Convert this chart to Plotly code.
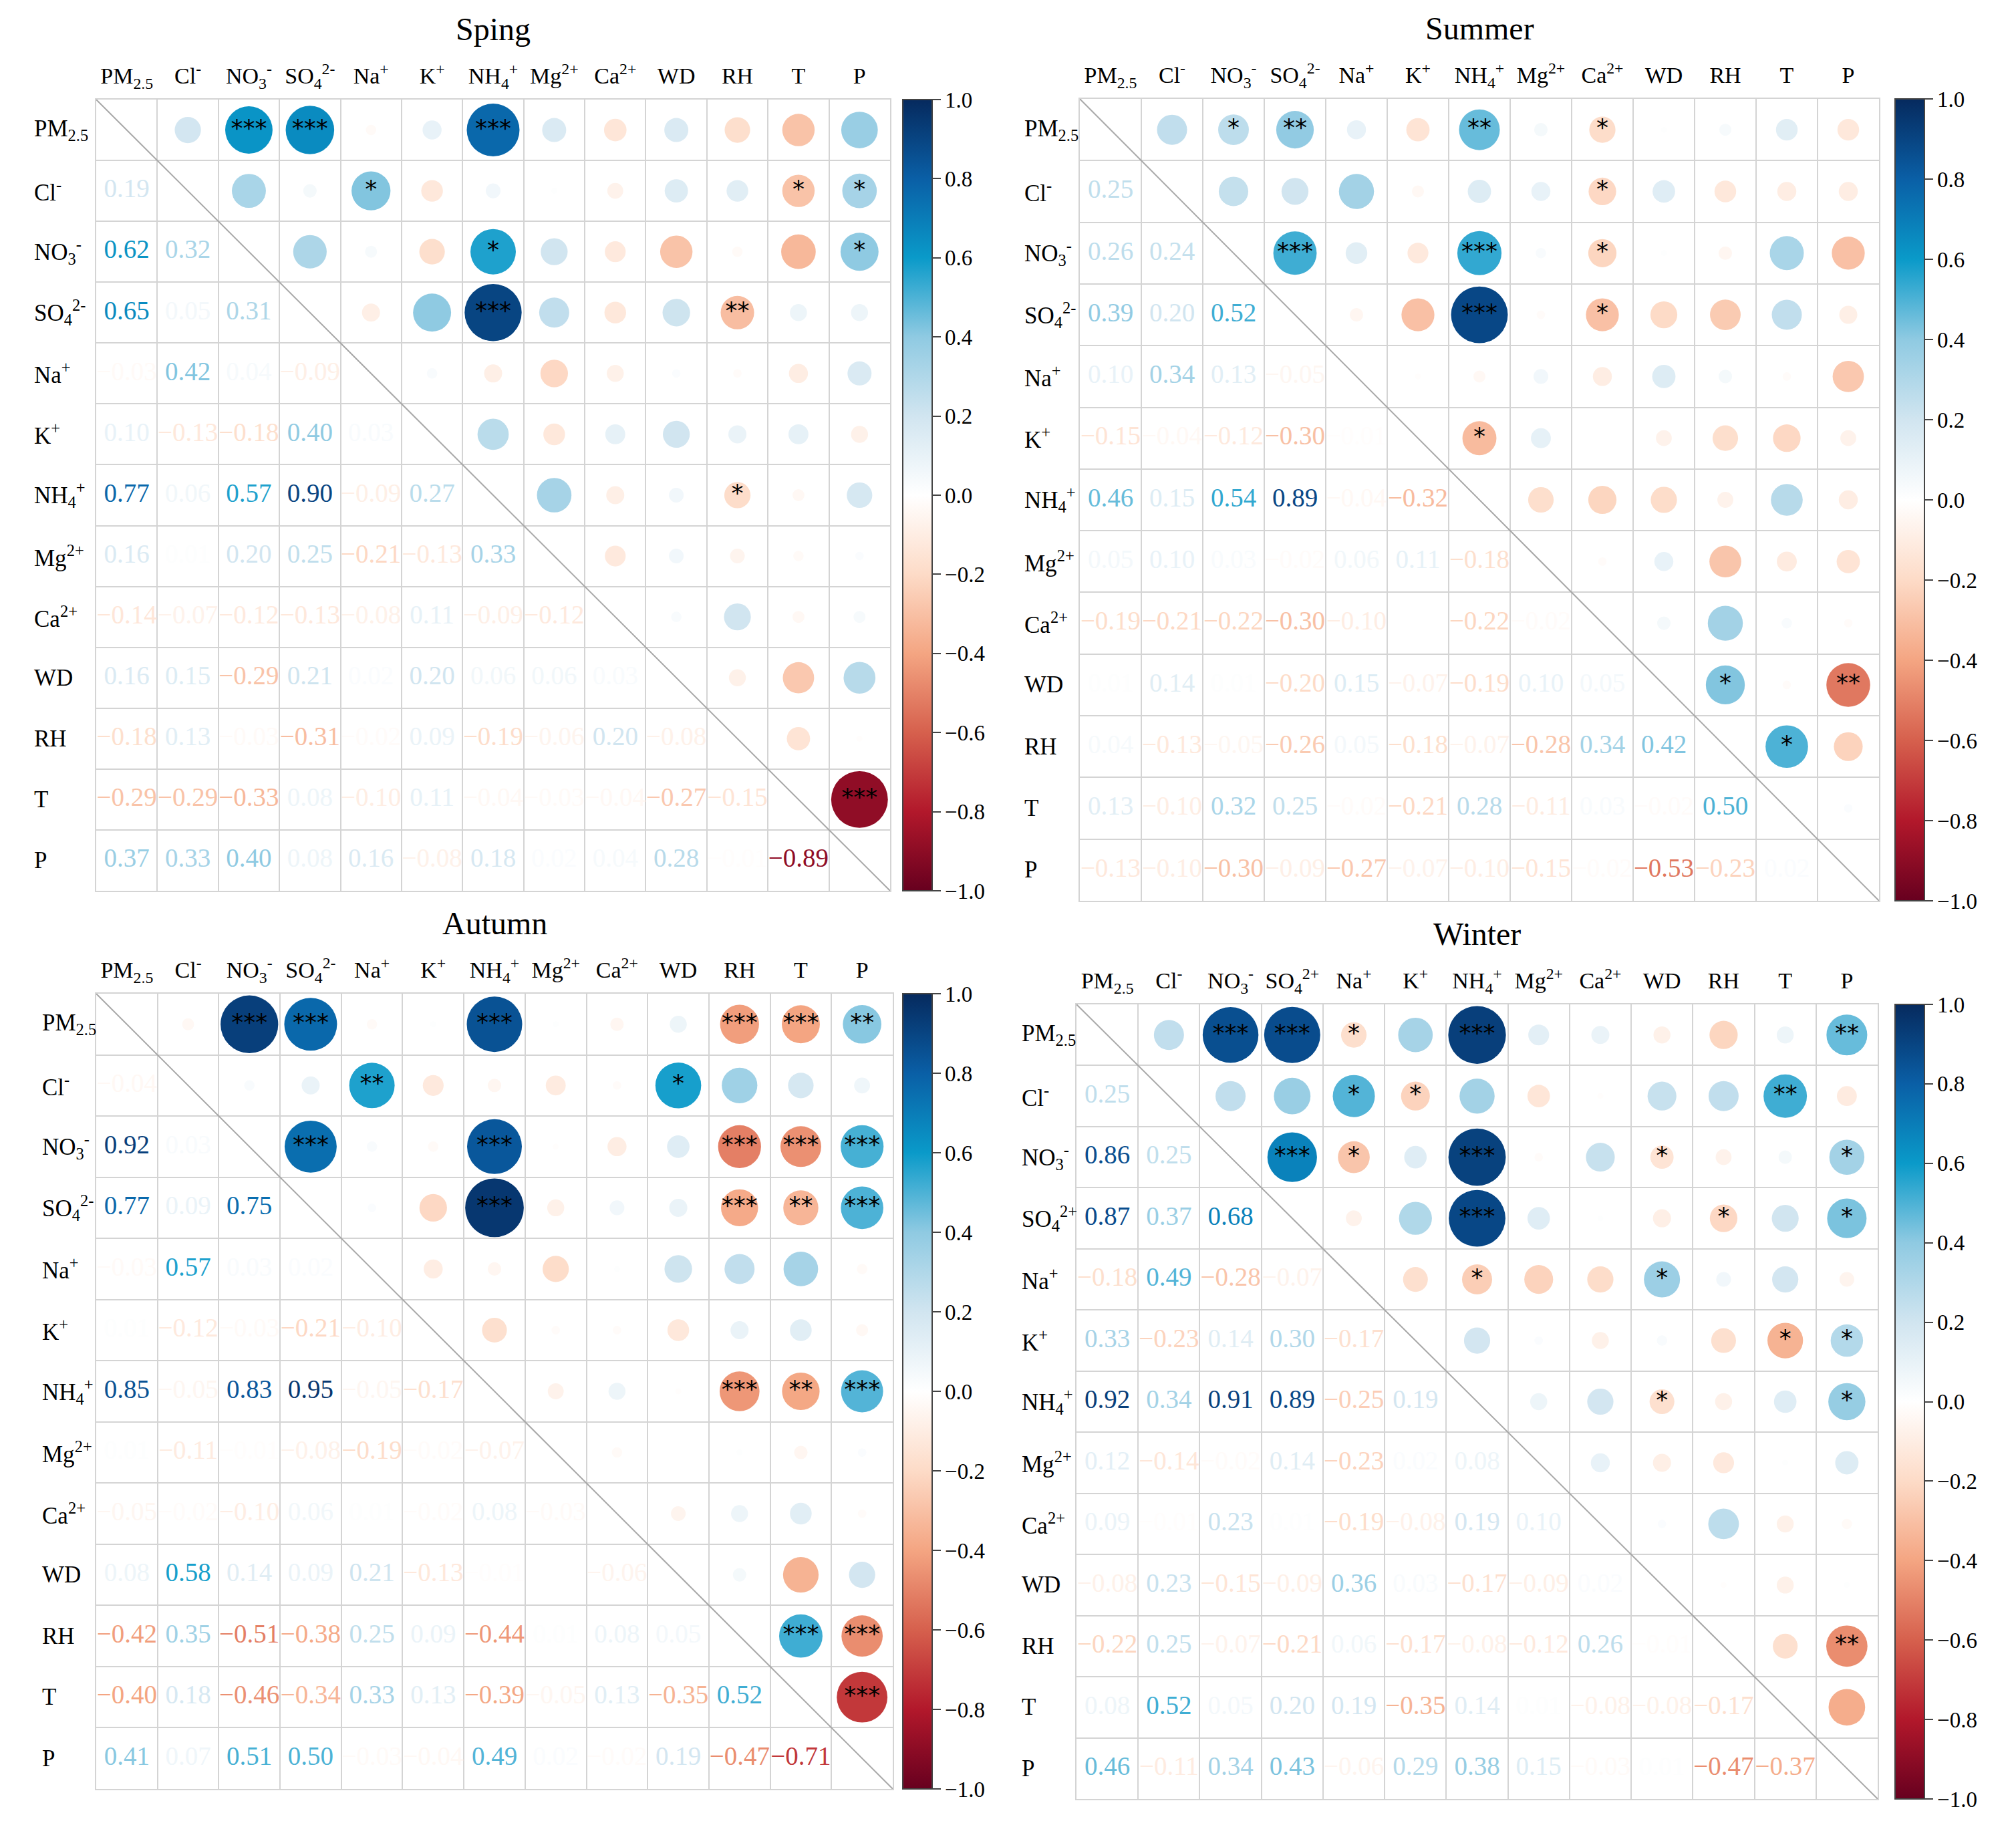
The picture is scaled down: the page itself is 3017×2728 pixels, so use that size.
import math

import plotly.graph_objects as go
from plotly.colors import sample_colorscale

# ===== DATA =====
keys = ["PM2.5", "Cl", "NO3", "SO4", "Na", "K", "NH4", "Mg", "Ca", "WD", "RH", "T", "P"]

labels = ["PM<sub>2.5</sub>", "Cl<sup>-</sup>", "NO<sub>3</sub><sup>-</sup>", "SO<sub>4</sub><sup>2-</sup>",
          "Na<sup>+</sup>", "K<sup>+</sup>", "NH<sub>4</sub><sup>+</sup>", "Mg<sup>2+</sup>",
          "Ca<sup>2+</sup>", "WD", "RH", "T", "P"]
labels_winter = labels[:3] + ["SO<sub>4</sub><sup>2+</sup>"] + labels[4:]

seasons = ["Sping", "Summer", "Autumn", "Winter"]

# lower triangle, row by row (row i has i values)
spring_lower = [
    [],
    [0.19],
    [0.62, 0.32],
    [0.65, 0.05, 0.31],
    [-0.03, 0.42, 0.04, -0.09],
    [0.10, -0.13, -0.18, 0.40, 0.03],
    [0.77, 0.06, 0.57, 0.90, -0.09, 0.27],
    [0.16, 0.01, 0.20, 0.25, -0.21, -0.13, 0.33],
    [-0.14, -0.07, -0.12, -0.13, -0.08, 0.11, -0.09, -0.12],
    [0.16, 0.15, -0.29, 0.21, 0.02, 0.20, 0.06, 0.06, 0.03],
    [-0.18, 0.13, -0.03, -0.31, -0.02, 0.09, -0.19, -0.06, 0.20, -0.08],
    [-0.29, -0.29, -0.33, 0.08, -0.10, 0.11, -0.04, -0.03, -0.04, -0.27, -0.15],
    [0.37, 0.33, 0.40, 0.08, 0.16, -0.08, 0.18, 0.02, 0.04, 0.28, -0.01, -0.89],
]
summer_lower = [
    [],
    [0.25],
    [0.26, 0.24],
    [0.39, 0.20, 0.52],
    [0.10, 0.34, 0.13, -0.05],
    [-0.15, -0.04, -0.12, -0.30, -0.01],
    [0.46, 0.15, 0.54, 0.89, -0.04, -0.32],
    [0.05, 0.10, 0.03, -0.02, 0.06, 0.11, -0.18],
    [-0.19, -0.21, -0.22, -0.30, -0.10, 0.00, -0.22, -0.02],
    [0.01, 0.14, 0.01, -0.20, 0.15, -0.07, -0.19, 0.10, 0.05],
    [0.04, -0.13, -0.05, -0.26, 0.05, -0.18, -0.07, -0.28, 0.34, 0.42],
    [0.13, -0.10, 0.32, 0.25, -0.02, -0.21, 0.28, -0.11, 0.03, -0.02, 0.50],
    [-0.13, -0.10, -0.30, -0.09, -0.27, -0.07, -0.10, -0.15, -0.02, -0.53, -0.23, 0.02],
]
autumn_lower = [
    [],
    [-0.04],
    [0.92, 0.03],
    [0.77, 0.09, 0.75],
    [-0.03, 0.57, 0.03, 0.02],
    [0.01, -0.12, -0.03, -0.21, -0.10],
    [0.85, -0.05, 0.83, 0.95, -0.05, -0.17],
    [0.01, -0.11, -0.01, -0.08, -0.19, -0.02, -0.07],
    [-0.05, -0.02, -0.10, 0.06, 0.01, -0.02, 0.08, -0.03],
    [0.08, 0.58, 0.14, 0.09, 0.21, -0.13, -0.01, 0.00, -0.06],
    [-0.42, 0.35, -0.51, -0.38, 0.25, 0.09, -0.44, 0.01, 0.08, 0.05],
    [-0.40, 0.18, -0.46, -0.34, 0.33, 0.13, -0.39, -0.05, 0.13, -0.35, 0.52],
    [0.41, 0.07, 0.51, 0.50, -0.03, -0.04, 0.49, 0.02, -0.02, 0.19, -0.47, -0.71],
]
winter_lower = [
    [],
    [0.25],
    [0.86, 0.25],
    [0.87, 0.37, 0.68],
    [-0.18, 0.49, -0.28, -0.07],
    [0.33, -0.23, 0.14, 0.30, -0.17],
    [0.92, 0.34, 0.91, 0.89, -0.25, 0.19],
    [0.12, -0.14, -0.02, 0.14, -0.23, 0.02, 0.08],
    [0.09, -0.01, 0.23, 0.01, -0.19, -0.08, 0.19, 0.10],
    [-0.08, 0.23, -0.15, -0.09, 0.36, 0.03, -0.17, -0.09, 0.02],
    [-0.22, 0.25, -0.07, -0.21, 0.06, -0.17, -0.08, -0.12, 0.26, -0.01],
    [0.08, 0.52, 0.05, 0.20, 0.19, -0.35, 0.14, 0.01, -0.08, -0.08, -0.17],
    [0.46, -0.11, 0.34, 0.43, -0.06, 0.29, 0.38, 0.15, -0.03, 0.01, -0.47, -0.37],
]

# significance marks in the upper triangle (row, column, stars)
spring_stars = [
    ("PM2.5", "NO3", "***"), ("PM2.5", "SO4", "***"), ("PM2.5", "NH4", "***"),
    ("Cl", "Na", "*"), ("Cl", "T", "*"), ("Cl", "P", "*"),
    ("NO3", "NH4", "*"), ("NO3", "P", "*"),
    ("SO4", "NH4", "***"), ("SO4", "RH", "**"),
    ("NH4", "RH", "*"), ("T", "P", "***"),
]
summer_stars = [
    ("PM2.5", "NO3", "*"), ("PM2.5", "SO4", "**"), ("PM2.5", "NH4", "**"), ("PM2.5", "Ca", "*"),
    ("Cl", "Ca", "*"),
    ("NO3", "SO4", "***"), ("NO3", "NH4", "***"), ("NO3", "Ca", "*"),
    ("SO4", "NH4", "***"), ("SO4", "Ca", "*"),
    ("K", "NH4", "*"), ("WD", "RH", "*"), ("WD", "P", "**"), ("RH", "T", "*"),
]
autumn_stars = [
    ("PM2.5", "NO3", "***"), ("PM2.5", "SO4", "***"), ("PM2.5", "NH4", "***"),
    ("PM2.5", "RH", "***"), ("PM2.5", "T", "***"), ("PM2.5", "P", "**"),
    ("Cl", "Na", "**"), ("Cl", "WD", "*"),
    ("NO3", "SO4", "***"), ("NO3", "NH4", "***"), ("NO3", "RH", "***"), ("NO3", "T", "***"), ("NO3", "P", "***"),
    ("SO4", "NH4", "***"), ("SO4", "RH", "***"), ("SO4", "T", "**"), ("SO4", "P", "***"),
    ("NH4", "RH", "***"), ("NH4", "T", "**"), ("NH4", "P", "***"),
    ("RH", "T", "***"), ("RH", "P", "***"), ("T", "P", "***"),
]
winter_stars = [
    ("PM2.5", "NO3", "***"), ("PM2.5", "SO4", "***"), ("PM2.5", "Na", "*"), ("PM2.5", "NH4", "***"), ("PM2.5", "P", "**"),
    ("Cl", "Na", "*"), ("Cl", "K", "*"), ("Cl", "T", "**"),
    ("NO3", "SO4", "***"), ("NO3", "Na", "*"), ("NO3", "NH4", "***"), ("NO3", "WD", "*"), ("NO3", "P", "*"),
    ("SO4", "NH4", "***"), ("SO4", "RH", "*"), ("SO4", "P", "*"),
    ("Na", "NH4", "*"), ("Na", "WD", "*"),
    ("K", "T", "*"), ("K", "P", "*"),
    ("NH4", "WD", "*"), ("NH4", "P", "*"), ("RH", "P", "**"),
]

# ===== STYLE =====
SCALE = [
    [0.0, "rgb(103,0,31)"], [0.1, "rgb(178,24,43)"], [0.2, "rgb(214,96,77)"],
    [0.3, "rgb(244,165,130)"], [0.4, "rgb(253,219,199)"], [0.5, "rgb(255,255,255)"],
    [0.6, "rgb(209,229,240)"], [0.7, "rgb(143,202,226)"], [0.8, "rgb(10,154,201)"],
    [0.9, "rgb(10,95,166)"], [1.0, "rgb(6,42,94)"],
]
W, H = 3017, 2728
CELL = 90
FONT = "Liberation Serif"
GRID = "#d4d4d4"

# panel boxes in pixels: left, right, top, bottom, colorbar left, row label left
boxes = [
    (136, 1324, 141, 1325, 1343, 42),
    (1608, 2804, 140, 1340, 2828, 1524),
    (136, 1328, 1479, 2669, 1343, 54),
    (1603, 2802, 1495, 2684, 2828, 1520),
]
lowers = [spring_lower, summer_lower, autumn_lower, winter_lower]
stars_all = [spring_stars, summer_stars, autumn_stars, winter_stars]
label_sets = [labels, labels, labels, labels_winter]


def full_matrix(lower):
    n = len(lower)
    m = [[0.0] * n for _ in range(n)]
    for i in range(n):
        for j, v in enumerate(lower[i]):
            m[i][j] = v
            m[j][i] = v
    return m


fig = go.Figure()
annotations = []
shapes = []
n = len(keys)

for k, (season, lower, stars, labs, box) in enumerate(zip(seasons, lowers, stars_all, label_sets, boxes), start=1):
    left, right, top, bottom, cbl, rowl = box
    xd = [left / W, right / W]
    yd = [1 - bottom / H, 1 - top / H]
    xa = "x" if k == 1 else f"x{k}"
    ya = "y" if k == 1 else f"y{k}"
    m = full_matrix(lower)

    # upper triangle circles
    cx, cy, cv = [], [], []
    for i in range(n):
        for j in range(i + 1, n):
            cx.append(j)
            cy.append(i)
            cv.append(m[i][j])
    fig.add_trace(go.Scatter(
        x=cx, y=cy, mode="markers", xaxis=xa, yaxis=ya, hoverinfo="skip", showlegend=False,
        marker=dict(
            size=[CELL * math.sqrt(abs(v)) for v in cv], color=cv, colorscale=SCALE,
            cmin=-1, cmax=1, line=dict(width=0), opacity=1, showscale=True,
            colorbar=dict(
                x=cbl / W, xanchor="left", xpad=0, ypad=0,
                y=sum(yd) / 2, yanchor="middle", len=yd[1] - yd[0], lenmode="fraction",
                thickness=44, outlinewidth=2, outlinecolor="#444",
                tickmode="linear", tick0=-1, dtick=0.2, tickformat=".1f",
                ticks="outside", ticklen=12, tickwidth=2, tickcolor="#444",
                tickfont=dict(family=FONT, size=33, color="black"),
            ),
        ),
    ))

    # lower triangle numbers
    tx, ty, tv = [], [], []
    for i in range(n):
        for j in range(i):
            tx.append(j)
            ty.append(i)
            tv.append(m[i][j])
    fig.add_trace(go.Scatter(
        x=tx, y=ty, mode="text", xaxis=xa, yaxis=ya, hoverinfo="skip", showlegend=False,
        text=[f"{v:.2f}".replace("-", "\u2212") for v in tv],
        textposition="middle center",
        textfont=dict(family=FONT, size=39,
                      color=sample_colorscale(SCALE, [(v + 1) / 2 for v in tv])),
    ))

    # significance stars
    fig.add_trace(go.Scatter(
        x=[keys.index(c) for _, c, _ in stars], y=[keys.index(r) for r, _, _ in stars],
        text=[s for _, _, s in stars], mode="text", xaxis=xa, yaxis=ya,
        hoverinfo="skip", showlegend=False, textposition="middle center",
        textfont=dict(family="DejaVu Sans", size=36, color="black"),
    ))

    edges = [i - 0.5 for i in range(n + 1)]
    common = dict(
        range=[-0.5, n - 0.5], showgrid=False, zeroline=False, fixedrange=True,
        showline=True, mirror=True, linecolor=GRID, linewidth=2,
        minor=dict(tickmode="array", tickvals=edges, showgrid=True, gridcolor=GRID, gridwidth=2, ticks=""),
    )
    fig.update_layout({
        ("xaxis" if k == 1 else f"xaxis{k}"): dict(
            common, domain=xd, anchor=ya, side="top", tickmode="array",
            tickvals=list(range(n)), ticktext=labs, ticks="outside", ticklen=8,
            tickcolor="rgba(0,0,0,0)", tickfont=dict(family=FONT, size=34, color="black"),
        ),
        ("yaxis" if k == 1 else f"yaxis{k}"): dict(
            common, domain=yd, anchor=xa, range=[n - 0.5, -0.5], showticklabels=False, ticks="",
        ),
    })

    shapes.append(dict(type="line", xref=xa, yref=ya, x0=-0.5, y0=-0.5, x1=n - 0.5, y1=n - 0.5,
                       line=dict(color="#a8a8a8", width=2)))

    for i, lab in enumerate(labs):
        annotations.append(dict(text=lab, xref="paper", yref=ya, x=rowl / W, y=i, xanchor="left",
                                yanchor="middle", showarrow=False, borderpad=0,
                                font=dict(family=FONT, size=35, color="black")))
    annotations.append(dict(text=season, xref="paper", yref="paper", x=sum(xd) / 2,
                            y=yd[1] + 0.0385, xanchor="center", yanchor="middle", showarrow=False,
                            font=dict(family=FONT, size=48, color="black")))

fig.update_layout(
    width=W, height=H, margin=dict(l=0, r=0, t=0, b=0),
    paper_bgcolor="white", plot_bgcolor="white",
    annotations=annotations, shapes=shapes,
)

fig.write_html("out.html")
